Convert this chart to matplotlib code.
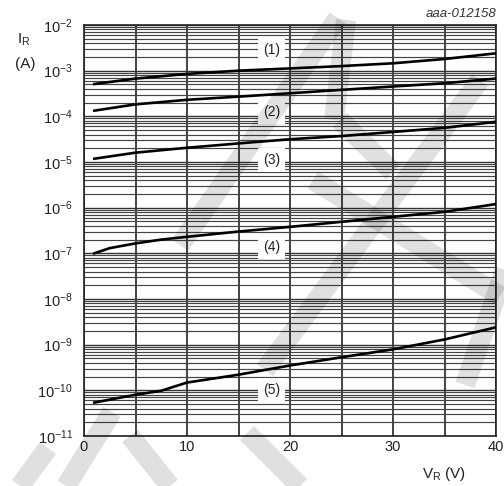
import numpy as np
import matplotlib
matplotlib.use("Agg")
import matplotlib.pyplot as plt
from matplotlib.lines import Line2D
from matplotlib.ticker import LogLocator, FixedLocator

plt.rcParams["font.family"] = ["Liberation Sans", "DejaVu Sans"]
plt.rcParams["mathtext.fontset"] = "custom"
plt.rcParams["mathtext.rm"] = "Liberation Sans"
plt.rcParams["mathtext.it"] = "Liberation Sans:italic"

# reverse current curves
vr1 = [1, 5, 10, 15, 20, 25, 30, 35, 40]
ir1 = [5.1e-4, 6.7e-4, 8.5e-4, 1.0e-3, 1.12e-3, 1.26e-3, 1.45e-3, 1.8e-3, 2.4e-3]

vr2 = [1, 5, 10, 15, 20, 25, 30, 35, 40]
ir2 = [1.33e-4, 1.83e-4, 2.3e-4, 2.7e-4, 3.2e-4, 3.8e-4, 4.5e-4, 5.3e-4, 6.7e-4]

vr3 = [1, 5, 10, 15, 20, 25, 30, 35, 40]
ir3 = [1.18e-5, 1.6e-5, 2.05e-5, 2.55e-5, 3.15e-5, 3.7e-5, 4.55e-5, 5.6e-5, 7.6e-5]

vr4 = [1, 2.5, 5, 7.5, 10, 15, 20, 25, 30, 35, 40]
ir4 = [1.0e-7, 1.3e-7, 1.65e-7, 2.0e-7, 2.3e-7, 3.0e-7, 3.8e-7, 4.9e-7, 6.3e-7, 8.1e-7, 1.2e-6]

vr5 = [1, 5, 7.5, 10, 15, 20, 25, 30, 35, 40]
ir5 = [5.4e-11, 8e-11, 9.8e-11, 1.48e-10, 2.2e-10, 3.5e-10, 5.3e-10, 7.9e-10, 1.3e-9, 2.4e-9]

curve_labels = ["(1)", "(2)", "(3)", "(4)", "(5)"]
label_y = [2.8e-3, 1.25e-4, 1.1e-5, 1.4e-7, 1.0e-10]
label_x = 18.2

fig = plt.figure(figsize=(5.04, 4.86), dpi=100)
ax = fig.add_axes([84 / 504, 1 - 436 / 486, 412 / 504, 411 / 486])

ax.set_yscale("log")
ax.set_xlim(0, 40)
ax.set_ylim(1e-11, 1e-2)

# grid
ax.xaxis.set_major_locator(FixedLocator([0, 10, 20, 30, 40]))
ax.xaxis.set_minor_locator(FixedLocator([5, 15, 25, 35]))
ax.yaxis.set_major_locator(LogLocator(base=10, numticks=20))
ax.yaxis.set_minor_locator(LogLocator(base=10, subs=np.arange(2, 10), numticks=20))
ax.grid(True, which="major", axis="x", color="#222222", lw=1.2)
ax.grid(True, which="minor", axis="x", color="#222222", lw=1.2)
ax.grid(True, which="major", axis="y", color="#333333", lw=1.0)
ax.grid(True, which="minor", axis="y", color="#444444", lw=0.85)
ax.set_axisbelow(True)
ax.tick_params(which="both", length=0, labelsize=10.5, colors="#222222")
ax.tick_params(axis="x", pad=3)
ax.tick_params(axis="y", pad=8)
ax.yaxis.set_minor_formatter(plt.NullFormatter())
for s in ax.spines.values():
    s.set_color("#222222")
    s.set_linewidth(1.2)

for vr, ir in [(vr1, ir1), (vr2, ir2), (vr3, ir3), (vr4, ir4), (vr5, ir5)]:
    ax.plot(vr, ir, color="black", lw=1.9, zorder=3)

for lab, ly in zip(curve_labels, label_y):
    ax.text(label_x, ly, lab, ha="center", va="center", fontsize=10, color="#222222",
            zorder=4, bbox=dict(boxstyle="square,pad=0.35", fc="white", ec="none"))

fig.text(24 / 504, 1 - 40 / 486, r"I$_\mathregular{R}$", ha="center", va="center",
         fontsize=11, color="#222222")
fig.text(25 / 504, 1 - 64 / 486, "(A)", ha="center", va="center",
         fontsize=11, color="#222222")
fig.text(444 / 504, 1 - 474 / 486, r"V$_\mathregular{R}$ (V)", ha="center", va="center",
         fontsize=11, color="#222222")
fig.text(496 / 504, 1 - 14 / 486, "aaa-012158", ha="right", va="center",
         fontsize=9.5, style="italic", color="#333333")

# faint watermark stripes (pixel coords, y from top)
stripes = [
    ((338, 18), (180, 245)),
    ((346, 20), (334, 120)),
    ((340, 120), (393, 172)),
    ((480, 80), (265, 370)),
    ((313, 180), (500, 296)),
    ((505, 270), (465, 385)),
    ((20, 486), (48, 448)),
    ((112, 412), (66, 486)),
    ((130, 436), (170, 486)),
    ((247, 433), (300, 486)),
]
for (x0, y0), (x1, y1) in stripes:
    fig.add_artist(Line2D([x0 / 504, x1 / 504], [1 - y0 / 486, 1 - y1 / 486],
                          transform=fig.transFigure, color="black", alpha=0.12,
                          lw=20 * 0.72, solid_capstyle="butt", zorder=10))

fig.savefig("out.png", dpi=100)
